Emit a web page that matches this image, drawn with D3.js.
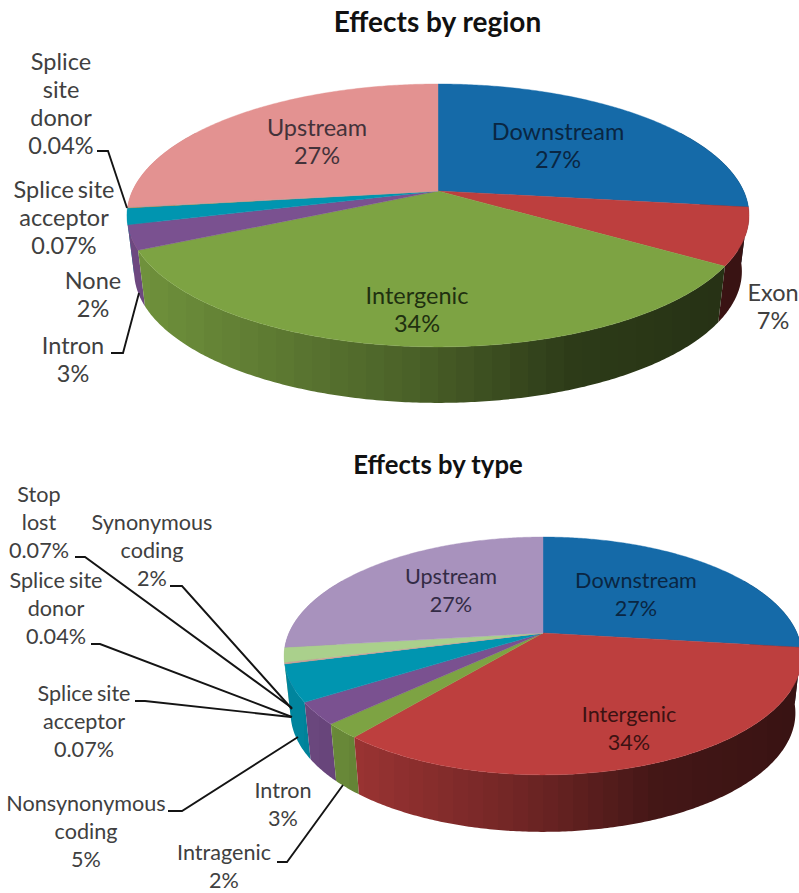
<!DOCTYPE html>
<html>
<head>
<meta charset="utf-8">
<script src="https://cdn.jsdelivr.net/npm/d3@7/dist/d3.min.js"></script>
<style>
  html, body { margin: 0; padding: 0; background: #fff; }
  svg { display: block; }
  text { font-family: Lato, "Open Sans", sans-serif; }
</style>
</head>
<body>
<svg id="chart" width="799" height="893"></svg>
<script>
// Effects by region
const regionNames = ["Downstream", "Exon", "Intergenic", "Intron", "None", "Splice site\nacceptor", "Splice\nsite\ndonor", "Upstream"];
const regionValues = [27, 7, 34, 3, 2, 0.07, 0.04, 27];
const regionColors = ["#156aa8", "#bd3f3e", "#7da343", "#7a5190", "#0095b0", "#da8a40", "#95b3d7", "#e39291"];

// Effects by type
const typeNames = ["Downstream", "Intergenic", "Intragenic", "Intron", "Nonsynonymous\ncoding", "Splice site\nacceptor", "Splice site\ndonor", "Stop\nlost", "Synonymous\ncoding", "Upstream"];
const typeValues = [27, 34, 2, 3, 5, 0.07, 0.04, 0.07, 2, 27];
const typeColors = ["#156aa8", "#bd3f3e", "#7da343", "#7a5190", "#0095b0", "#e8a070", "#95b3d7", "#e39291", "#aad08c", "#a892bd"];

// Label anchors: [centre x, centre y of first line, text colour]
const regionLabelAt = [
  [558, 133, "#0a2642"], [773, 294, "#404040"], [417, 297, "#1f3010"], [73, 347, "#404040"],
  [93, 282, "#404040"], [64, 191, "#404040"], [61, 63, "#404040"], [317, 129, "#43323a"]
];
const typeLabelAt = [
  [636, 582, "#0a2642"], [629, 716, "#3c1212"], [224, 854, "#404040"], [283, 792, "#404040"],
  [86, 805, "#404040"], [84, 695, "#404040"], [56, 582, "#404040"], [39, 496, "#404040"],
  [152, 524, "#404040"], [451, 578, "#332b45"]
];

// Leader lines, each ending at the rim or wall of its slice
const regionLeaders = [
  [[97, 151], [108, 151], [127, 208]],
  [[111, 353], [123, 353], [139, 293]]
];
const typeLeaders = [
  [[75, 557], [85, 557], [292, 708]],
  [[170, 586], [182, 586], [292, 709]],
  [[91, 644], [100, 644], [292, 717]],
  [[135, 701], [145, 701], [291, 717]],
  [[168, 811], [182, 811], [298, 737]],
  [[277, 862], [287, 862], [343, 785]]
];

const svg = d3.select("#chart");
const defs = svg.append("defs");
const LINE_HEIGHT = 28;
const WALL_BANDS = 34;

// Brightness of the side wall, falling from left to right across the pie
const shade = d3.scaleLinear().domain([0, 0.45, 0.72, 1]).range([0.9, 0.6, 0.36, 0.3]).clamp(true);

// Wall fill for one slice colour: hard-edged vertical bands that darken to the right
function wallGradient(id, color, x0, x1) {
  const c = d3.rgb(color);
  const grad = defs.append("linearGradient").attr("id", id)
    .attr("gradientUnits", "userSpaceOnUse")
    .attr("x1", x0).attr("x2", x1).attr("y1", 0).attr("y2", 0);
  d3.range(WALL_BANDS).forEach(b => {
    const k = shade((b + 0.5) / WALL_BANDS);
    const col = d3.rgb(c.r * k, c.g * k, c.b * k).formatHex();
    grad.append("stop").attr("offset", b / WALL_BANDS).attr("stop-color", col);
    grad.append("stop").attr("offset", (b + 1) / WALL_BANDS).attr("stop-color", col);
  });
}

function drawPie(cfg) {
  const g = svg.append("g");
  const { cx, cy, rx, ry, p, depth, inset } = cfg;

  // Tilted circle seen in perspective: the rear half is compressed against the front
  const rim = a => {
    const X = Math.sin(a), Y = Math.cos(a), w = 1 + p * Y;
    return [cx + rx * X / w, cy - ry * Y / w];
  };
  const base = a => {
    const [x, y] = rim(a);
    return [cx + (x - cx) * inset, y + depth];
  };
  const sweep = (a, b) => {
    const n = Math.max(2, Math.ceil((b - a) / 0.01));
    return d3.range(n + 1).map(j => a + (b - a) * j / n);
  };

  const arcs = d3.pie().sort(null).startAngle(0).endAngle(2 * Math.PI)(cfg.values);
  const line = d3.line();

  arcs.forEach((d, i) => wallGradient(`${cfg.id}-wall-${i}`, cfg.colors[i], cx - rx, cx + rx));

  // Side wall of the slices that face the viewer, painted from the back forwards
  const lo = Math.PI / 3, hi = 5 * Math.PI / 3;
  const walls = arcs
    .map((d, i) => ({ i, a: Math.max(d.startAngle, lo), b: Math.min(d.endAngle, hi) }))
    .filter(w => w.b > w.a)
    .sort((s, t) => Math.abs((t.a + t.b) / 2 - Math.PI) - Math.abs((s.a + s.b) / 2 - Math.PI));
  g.append("g").selectAll("path").data(walls).join("path")
    .attr("d", w => {
      const angles = sweep(w.a, w.b);
      return line([...angles.map(rim), ...angles.reverse().map(base)]) + "Z";
    })
    .attr("fill", w => `url(#${cfg.id}-wall-${w.i})`);

  // Top face
  g.append("g").selectAll("path").data(arcs).join("path")
    .attr("d", d => line([[cx, cy], ...sweep(d.startAngle, d.endAngle).map(rim)]) + "Z")
    .attr("fill", (d, i) => cfg.colors[i])
    .attr("stroke", (d, i) => cfg.colors[i])
    .attr("stroke-width", 0.4);

  // Leader lines
  g.append("g").selectAll("path").data(cfg.leaders).join("path")
    .attr("d", line)
    .attr("fill", "none")
    .attr("stroke", "#141414")
    .attr("stroke-width", 1.9);

  // Category and percentage labels
  const labels = g.append("g").selectAll("text").data(arcs).join("text")
    .attr("text-anchor", "middle")
    .attr("font-size", cfg.fontSize)
    .attr("word-spacing", cfg.wordSpacing)
    .attr("fill", (d, i) => cfg.labelAt[i][2]);
  labels.each(function (d, i) {
    const [x, y] = cfg.labelAt[i];
    const rows = cfg.names[i].split("\n").concat(`${d.data}%`);
    d3.select(this).selectAll("tspan").data(rows).join("tspan")
      .attr("x", x)
      .attr("y", (r, j) => y + j * LINE_HEIGHT)
      .attr("dy", "0.3em")
      .text(r => r);
  });

  svg.append("text")
    .attr("x", cfg.titleX).attr("y", cfg.titleY)
    .attr("dy", "0.35em")
    .attr("text-anchor", "middle")
    .attr("font-weight", 700)
    .attr("font-size", cfg.titleSize)
    .attr("fill", "#111")
    .text(cfg.title);
}

drawPie({
  id: "region",
  title: "Effects by region", titleX: 437.5, titleY: 22, titleSize: 28,
  names: regionNames, values: regionValues, colors: regionColors,
  labelAt: regionLabelAt, leaders: regionLeaders,
  fontSize: 23.5, wordSpacing: -2,
  cx: 438, cy: 191, rx: 305.6, ry: 126.9, p: 0.186, depth: 56, inset: 0.977
});

drawPie({
  id: "type",
  title: "Effects by type", titleX: 438, titleY: 465, titleSize: 25.7,
  names: typeNames, values: typeValues, colors: typeColors,
  labelAt: typeLabelAt, leaders: typeLeaders,
  fontSize: 21.6, wordSpacing: -1.5,
  cx: 543, cy: 633, rx: 254, ry: 114.5, p: 0.193, depth: 57, inset: 0.975
});
</script>
</body>
</html>
